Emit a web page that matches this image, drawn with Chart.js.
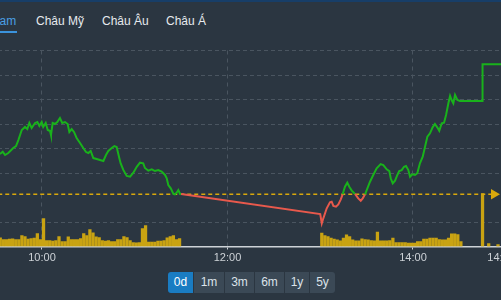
<!DOCTYPE html>
<html>
<head>
<meta charset="utf-8">
<script src="https://cdn.jsdelivr.net/npm/chart.js@4.4.1/dist/chart.umd.min.js"></script>
<style>
html, body { margin: 0; padding: 0; }
body { width: 501px; height: 300px; overflow: hidden; position: relative; background: #2b3641;
       font-family: "Liberation Sans", Arial, sans-serif; }
#topbar { position: absolute; left: 0; top: 0; width: 501px; height: 2px; background: #173e68; }
.tab { position: absolute; top: 14px; line-height: 14px; font-size: 12px; color: #e6eaee; white-space: nowrap; }
.tab.on { color: #4a9fe4; }
#uline { position: absolute; left: -40px; width: 57px; top: 31px; height: 2px; background: #3b93dc; }
#wrap { position: absolute; left: -60px; top: 40px; }
.btn { position: absolute; top: 272px; height: 21px; line-height: 21px; text-align: center; font-size: 12px;
       color: #dce3ea; background: #3b4956; }
.btn.on { background: #1a7cc2; color: #ffffff; }
</style>
</head>
<body>
<div id="topbar"></div>
<div id="tabs"></div>
<div id="uline"></div>
<div id="wrap"><canvas id="myChart" width="620" height="230"></canvas></div>
<div id="ranges"></div>
<script>
// tabs + range buttons
const tabs = ["Việt Nam", "Châu Mỹ", "Châu Âu", "Châu Á"];
const ranges = ["0d", "1m", "3m", "6m", "1y", "5y"];

// reference price (yellow dashed line) and hidden grid values
const refPrice = 994.27;
const gridValues = [992, 996, 998, 1000, 1002, 1004, 1006];

// x ticks, minutes since midnight
const timeTicks = [600, 720, 840, 897];

// price line: minutes since midnight / index points
const priceTimes = [572.8, 574.6, 576.1, 578.2, 581.4, 583.2, 584.7, 586.9, 589.0, 590.5,
  591.8, 593.3, 595.5, 597.0, 598.3, 599.8, 600.8, 602.4, 603.7, 605.2,
  605.8, 606.9, 608.4, 609.9, 611.6, 613.1, 614.9, 616.6, 617.7, 619.2,
  620.7, 622.4, 624.6, 626.7, 628.5, 630.0, 631.5, 633.2, 635.4, 637.5,
  639.7, 641.4, 642.9, 645.1, 646.8, 648.3, 650.0, 650.9, 652.6, 654.8,
  657.0, 659.1, 661.3, 663.4, 665.5, 666.6, 668.8, 671.0, 673.1, 675.2,
  677.4, 679.6, 680.7, 681.7, 683.3, 685.0, 686.0, 687.1, 688.2, 689.3, 690.0,
  780.0, 781.0, 782.0, 784.2, 786.3, 787.4, 788.5, 790.2, 791.7, 793.3,
  794.5, 796.0, 797.5, 798.8, 800.4, 802.5, 804.6, 806.2, 807.5, 809.0,
  810.5, 812.2, 814.3, 816.5, 819.1, 820.8, 823.0, 824.7, 825.6, 826.9,
  828.4, 829.9, 831.1, 832.7, 834.2, 835.5, 837.0, 838.1, 839.6, 841.3,
  842.8, 844.5, 846.3, 847.8, 849.3, 851.0, 852.7, 854.2, 855.7, 857.0,
  858.6, 860.1, 861.4, 862.9, 864.0, 865.0, 866.1, 867.2, 868.7, 870.4,
  884.9, 885.0, 900.0];
const priceValues = [997.55, 997.74, 997.47, 997.63, 998.04, 998.20, 998.69, 999.51, 999.76, 999.59,
  1000.08, 999.67, 1000.08, 1000.16, 999.84, 1000.16, 999.76, 1000.08, 999.51, 999.43,
  999.10, 1000.08, 1000.00, 1000.16, 1000.49, 1000.08, 1000.16, 1000.00, 999.35, 999.59,
  999.35, 998.86, 998.45, 998.04, 997.71, 997.63, 997.80, 997.22, 997.14, 997.06,
  996.98, 997.47, 997.80, 998.04, 998.20, 998.12, 997.22, 996.78, 996.25, 995.76,
  995.70, 996.02, 996.51, 996.84, 996.79, 996.41, 996.19, 996.30, 996.16, 996.24,
  996.11, 995.84, 995.57, 995.02, 994.75, 994.29, 994.26, 994.39, 994.61, 994.29, 994.28,
  992.65, 991.89, 992.30, 993.12, 993.61, 993.66, 993.31, 993.25, 993.44, 993.85,
  994.26, 994.88, 995.21, 994.88, 994.56, 994.29, 993.93, 993.74, 993.93, 994.26,
  994.75, 995.29, 995.84, 996.38, 996.73, 996.65, 996.30, 996.16, 995.57, 995.16,
  995.37, 995.84, 996.16, 996.24, 996.51, 996.57, 996.24, 995.70, 995.89, 995.84,
  995.98, 996.79, 997.33, 998.15, 998.96, 999.24, 999.73, 1000.00, 999.73, 999.45,
  1000.06, 1000.11, 1000.73, 1001.69, 1002.29, 1001.96, 1001.69, 1002.37, 1001.96, 1001.88,
  1001.88, 1004.87, 1004.87];

// volume bars: minutes since midnight / volume
const volumeTimes = [573, 575, 577, 579, 581, 583, 585, 587, 589, 591,
  593, 595, 597, 599, 601, 603, 605, 607, 609, 611,
  613, 615, 617, 619, 621, 623, 625, 627, 629, 631,
  633, 635, 637, 639, 641, 643, 645, 647, 649, 651,
  653, 655, 657, 659, 661, 663, 665, 667, 669, 671,
  673, 675, 677, 679, 681, 683, 685, 687, 689,
  781, 783, 785, 787, 789, 791, 793, 795, 797, 799,
  801, 803, 805, 807, 809, 811, 813, 815, 817, 819,
  821, 823, 825, 827, 829, 831, 833, 835, 837, 839,
  841, 843, 845, 847, 849, 851, 853, 855, 857, 859,
  861, 863, 865, 867, 869, 871,
  885, 889, 895];
const volumes = [8.7, 7, 7, 7.5, 7.7, 7, 7, 11, 10, 7.5,
  8, 8.5, 13, 7, 28, 6, 6, 5.5, 6, 10,
  5, 5, 9.7, 7, 7, 7, 8, 13, 11, 17,
  13.7, 9.7, 9, 6, 5.5, 6, 5, 5, 7, 7,
  10, 9, 6, 4, 3.7, 4, 18, 21, 4.3, 4.3,
  4.5, 5.3, 5.3, 6, 8.7, 10, 11, 7, 8,
  13.3, 11, 10, 8.3, 7.3, 6.7, 5.7, 8.3, 11.7, 10,
  6.7, 5.7, 5.7, 7.7, 7, 6.7, 6, 5.7, 14.3, 5.7,
  5.7, 5.7, 6, 8.3, 4, 4, 4, 4, 3.3, 3.3,
  3.3, 5, 5, 7.3, 7.3, 8.3, 8.3, 8.3, 7, 6.7,
  6.7, 8.3, 12.7, 12.7, 12, 5,
  53, 3, 2];

const GREEN = "#19b21b", RED = "#e8594c", GOLD = "#d9a80c", GRID = "#4a5560";

// html text: tabs and range buttons
const tabLeft = [-33, 36, 102, 166];
tabs.forEach((t, i) => {
  const d = document.createElement("div");
  d.className = "tab" + (i === 0 ? " on" : "");
  d.style.left = tabLeft[i] + "px";
  d.textContent = t;
  document.getElementById("tabs").appendChild(d);
});
const btnLeft = [168, 194, 225, 255, 285, 310];
const btnWidth = [25, 30, 29, 29, 24, 25];
ranges.forEach((r, i) => {
  const d = document.createElement("div");
  d.className = "btn" + (i === 0 ? " on" : "");
  d.style.left = btnLeft[i] + "px";
  d.style.width = btnWidth[i] + "px";
  if (i === 0) d.style.borderRadius = "3px 0 0 3px";
  if (i === ranges.length - 1) d.style.borderRadius = "0 3px 3px 0";
  d.textContent = r;
  document.getElementById("ranges").appendChild(d);
});

function fmtTime(v) {
  const h = Math.floor(v / 60), m = Math.round(v % 60);
  return h + ":" + String(m).padStart(2, "0");
}

const priceData = priceTimes.map((t, i) => ({ x: t, y: priceValues[i] }));
const volData = volumeTimes.map((t, i) => ({ x: t, y: volumes[i] }));
const lastTick = timeTicks.length - 1;

const config = {
  type: "line",
  data: {
    datasets: [
      {
        label: "price",
        data: priceData,
        order: 0,
        borderWidth: 2,
        pointRadius: 0,
        tension: 0,
        borderColor: GREEN,
        segment: {
          borderColor: c => ((c.p0.parsed.y + c.p1.parsed.y) / 2 < refPrice ? RED : GREEN)
        }
      },
      {
        label: "ref",
        data: [{ x: 540, y: refPrice }, { x: 892.4, y: refPrice }],
        order: 1,
        borderColor: GOLD,
        borderWidth: 1.5,
        borderDash: [4, 3],
        pointRadius: [0, 6],
        pointStyle: "triangle",
        rotation: 90,
        pointBackgroundColor: GOLD,
        pointBorderWidth: 0
      },
      {
        type: "bar",
        label: "volume",
        data: volData,
        yAxisID: "y1",
        order: 2,
        backgroundColor: "#c9a312",
        barThickness: 2.6
      }
    ]
  },
  options: {
    responsive: false,
    animation: false,
    layout: { padding: { left: 9.25, right: 7.9, top: 10.5, bottom: 3.3 } },
    plugins: { legend: { display: false }, tooltip: { enabled: false } },
    scales: {
      x: {
        type: "linear",
        min: 540,
        max: 930,
        offset: false,
        afterBuildTicks: s => { s.ticks = timeTicks.map(v => ({ value: v })); },
        ticks: {
          autoSkip: false,
          maxRotation: 0,
          padding: 2,
          color: "#cdd2d7",
          font: { family: "'Liberation Sans', Arial, sans-serif", size: 11 },
          callback: v => fmtTime(v)
        },
        grid: {
          offset: false,
          tickLength: 3,
          color: c => (c.index === lastTick ? "rgba(0,0,0,0)" : GRID),
          tickColor: c => (c.index === lastTick ? "rgba(0,0,0,0)" : "#cdd2d7")
        },
        border: { display: true, color: "#cdd2d7", width: 1.5, dash: [4, 4] }
      },
      y: {
        min: 990,
        max: 1006,
        afterBuildTicks: s => { s.ticks = gridValues.map(v => ({ value: v })); },
        ticks: { display: false },
        grid: { color: GRID, drawTicks: false },
        border: { display: false, dash: [4, 3] }
      },
      y1: { display: false, min: 0, max: 196 }
    }
  }
};

const context = document.getElementById("myChart");
const myChart = new Chart(context, config);
</script>
</body>
</html>
